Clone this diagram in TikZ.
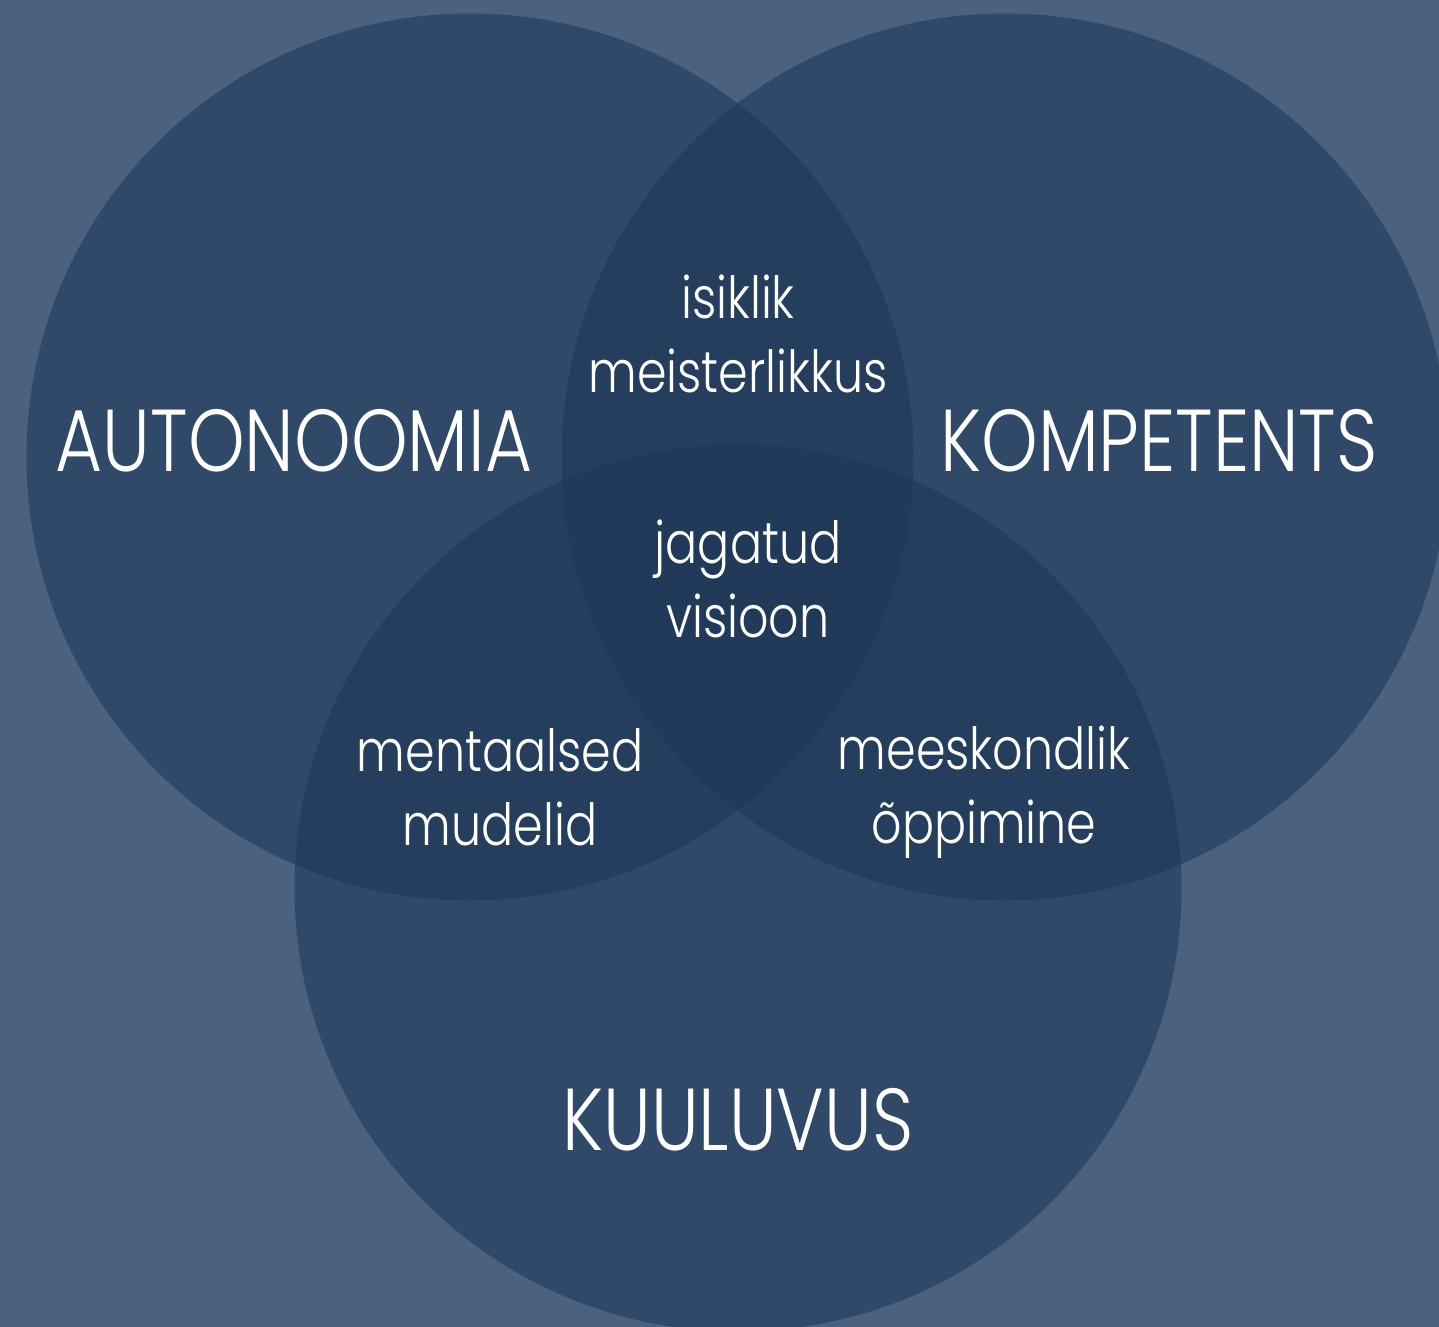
\documentclass[tikz,border=0pt]{standalone}
\usepackage{fontspec}
\setmainfont{Poppins Light}[FakeStretch=0.82]
\usetikzlibrary{positioning}
\definecolor{slatebg}{RGB}{74,97,127}
\definecolor{setblue}{RGB}{30,55,88}

\begin{document}
\begin{tikzpicture}[x=0.01cm, y=-0.01cm,
    setdisc/.style={fill=setblue, fill opacity=0.57},
    bigname/.style={text=white, inner sep=0pt, anchor=base, font=\fontsize{25}{30}\selectfont},
    overlap/.style={text=white, inner sep=0pt, anchor=base, align=center, font=\fontsize{16.5}{20.8}\selectfont}]
  \fill[slatebg] (0,0) rectangle (1439,1327);
  \useasboundingbox (0,0) rectangle (1439,1327);

  % the three sets
  \coordinate (auto) at (470,457);
  \coordinate (komp) at (1005,457);
  \coordinate (kuul) at (738,888);

  \fill[setdisc] (auto) circle (443.5);
  \fill[setdisc] (komp) circle (443.5);
  \fill[setdisc] (kuul) circle (443.5);

  \node[bigname] (autonoomia) at (294,471) {AUTONOOMIA};
  \node[bigname] (kompetents) at (1159,471) {KOMPETENTS};
  \node[bigname] (kuuluvus) at (738,1150) {KUULUVUS};

  % overlaps (base = last line)
  \node[overlap] (isiklik) at (738,392) {isiklik\\meisterlikkus};
  \node[overlap] (jagatud) at (748,637) {jagatud\\visioon};
  \node[overlap] (mentaalsed) at (500,845) {mentaalsed\\mudelid};
  \node[overlap] (meeskondlik) at (984,843) {meeskondlik\\õppimine};
\end{tikzpicture}
\end{document}
